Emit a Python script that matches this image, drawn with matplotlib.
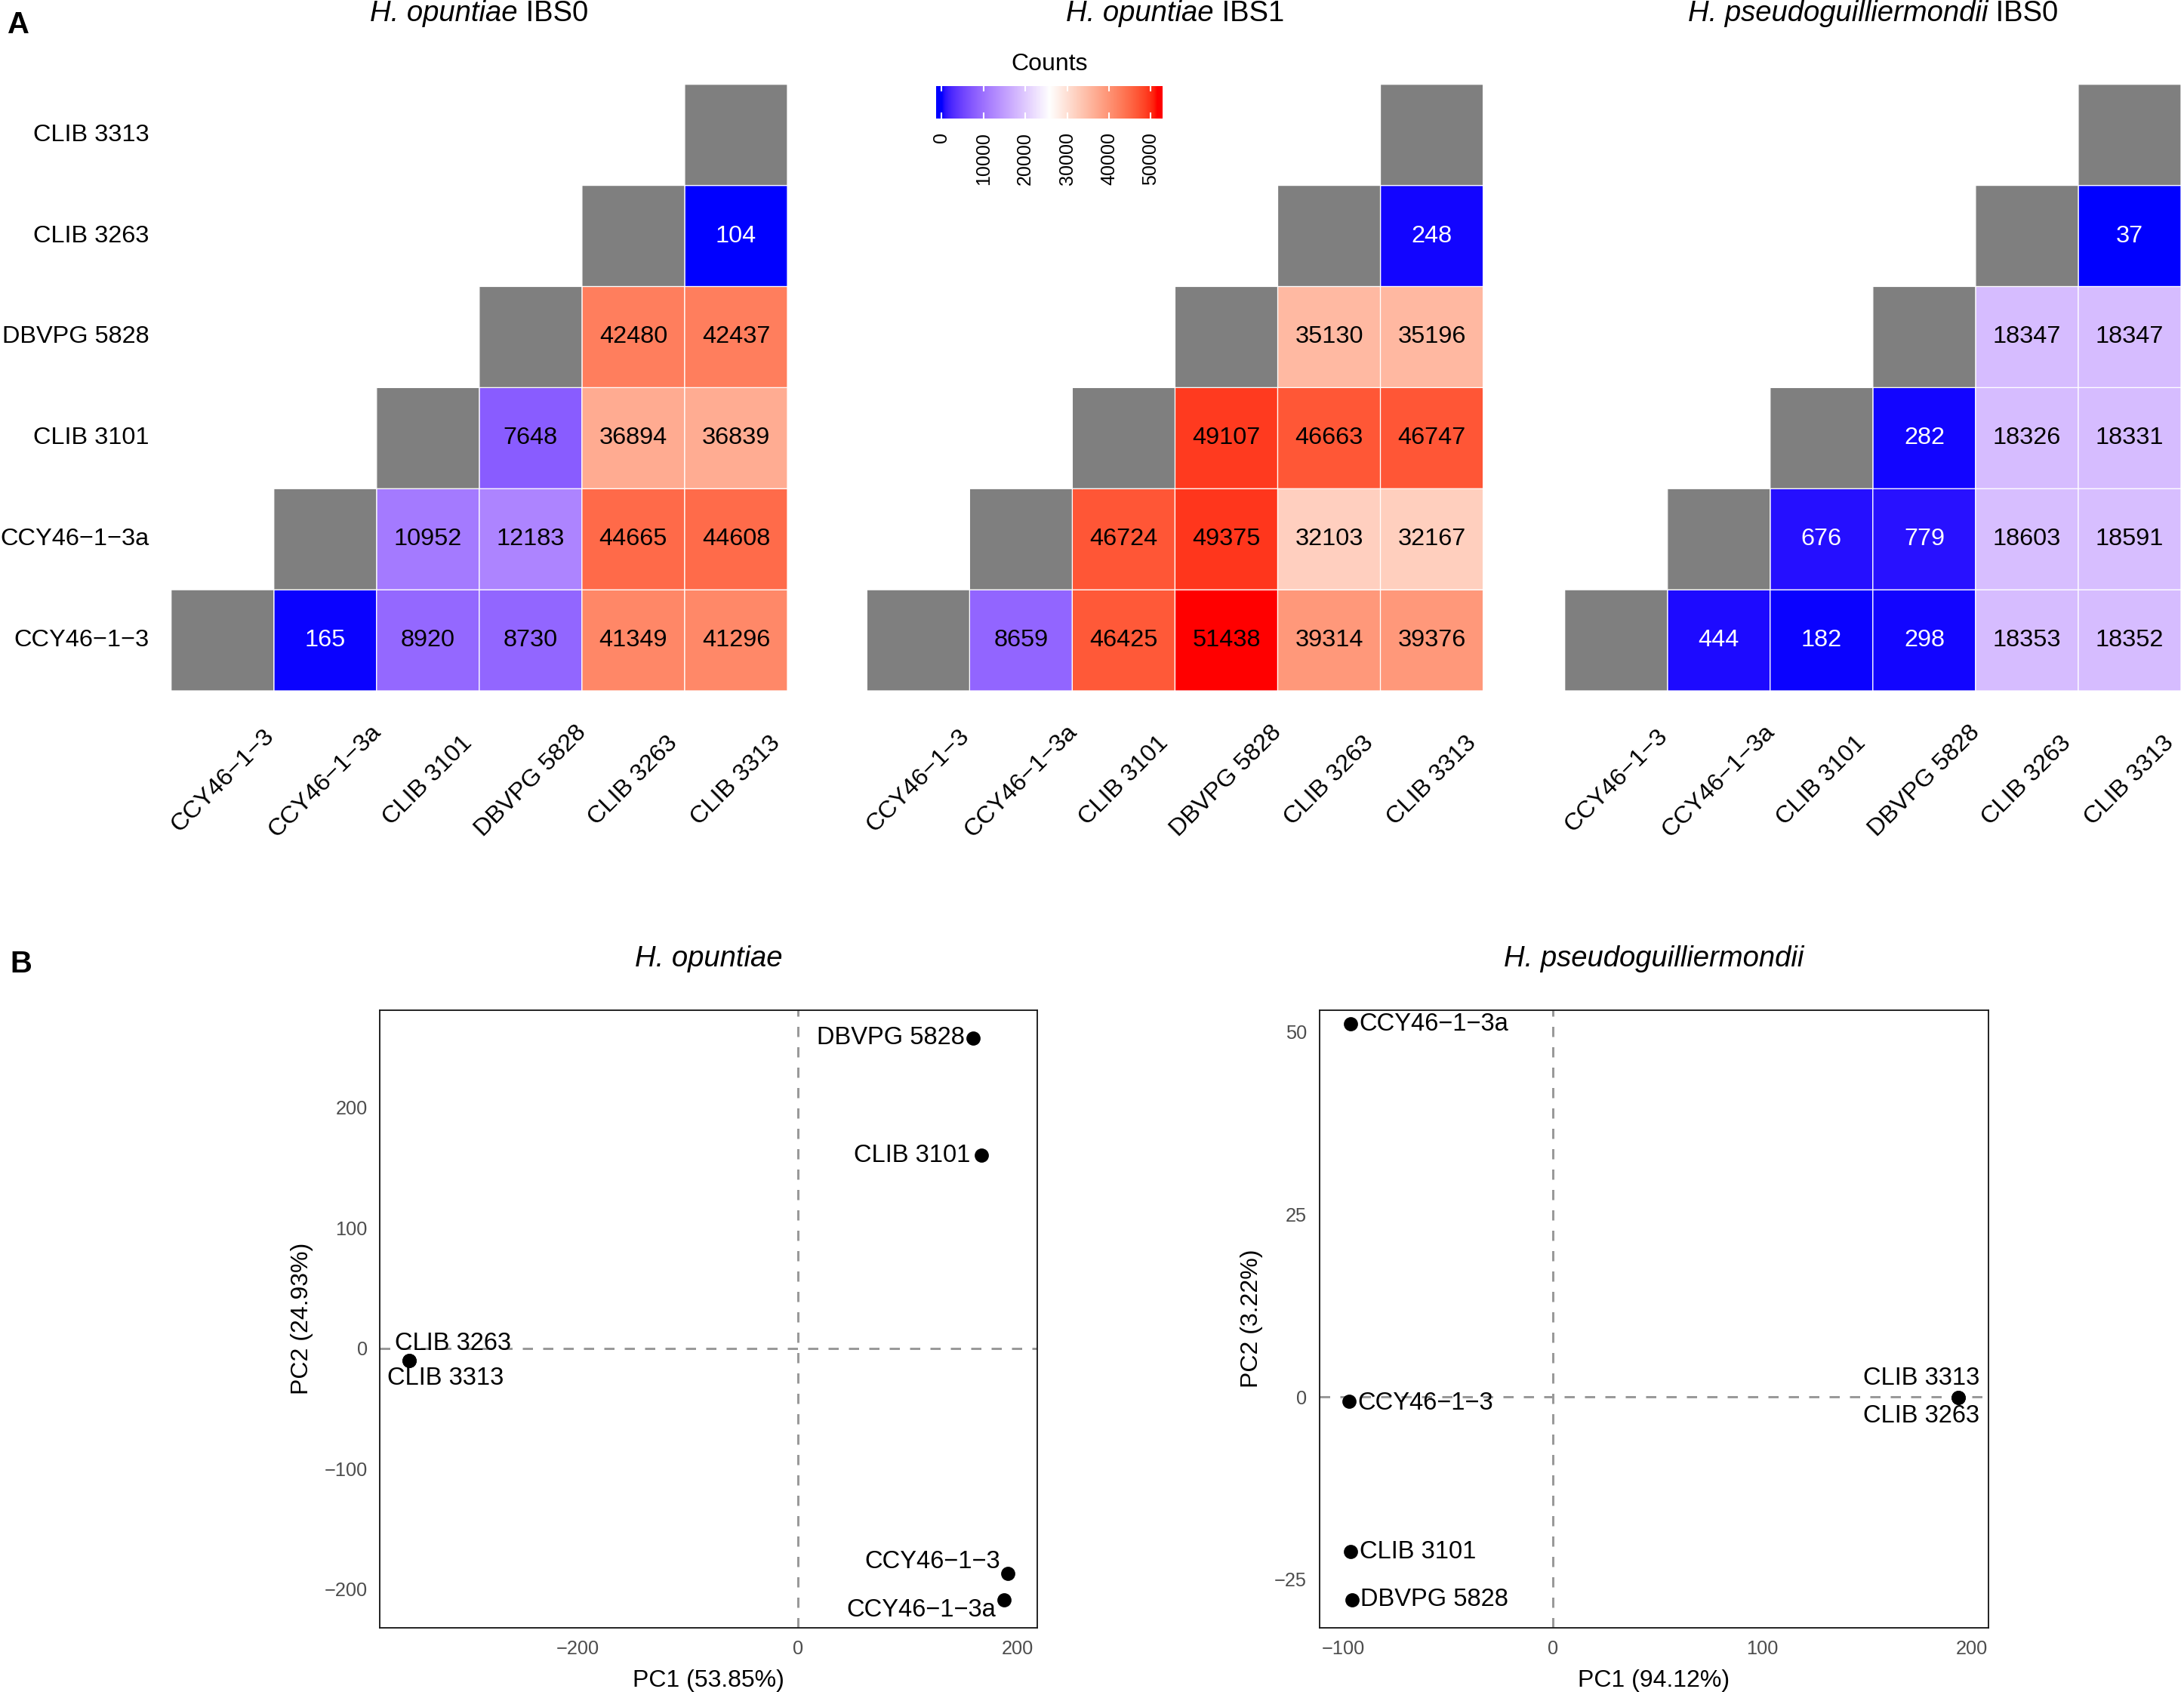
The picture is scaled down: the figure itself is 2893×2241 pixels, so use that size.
import numpy as np
import matplotlib
matplotlib.use("Agg")
import matplotlib.pyplot as plt
from matplotlib.colors import ListedColormap, Normalize

plt.rcParams['font.family'] = ['Liberation Sans', 'DejaVu Sans']

# strains, bottom row / left column first
strains = ['CCY46\u22121\u22123', 'CCY46\u22121\u22123a', 'CLIB 3101',
           'DBVPG 5828', 'CLIB 3263', 'CLIB 3313']

# upper triangle of each heatmap, row i holds columns i+1 .. 5
ho_ibs0 = [[165, 8920, 8730, 41349, 41296],
           [10952, 12183, 44665, 44608],
           [7648, 36894, 36839],
           [42480, 42437],
           [104]]
ho_ibs1 = [[8659, 46425, 51438, 39314, 39376],
           [46724, 49375, 32103, 32167],
           [49107, 46663, 46747],
           [35130, 35196],
           [248]]
hp_ibs0 = [[444, 182, 298, 18353, 18352],
           [676, 779, 18603, 18591],
           [282, 18326, 18331],
           [18347, 18347],
           [37]]
heat_titles = [('H. opuntiae', ' IBS0'), ('H. opuntiae', ' IBS1'),
               ('H. pseudoguilliermondii', ' IBS0')]
cbar_ticks = [0, 10000, 20000, 30000, 40000, 50000]

# PCA coordinates
pca1_names = ['DBVPG 5828', 'CLIB 3101', 'CCY46\u22121\u22123', 'CCY46\u22121\u22123a', 'CLIB 3263', 'CLIB 3313']
pca1_x = [159.7, 166.9, 191.5, 187.9, -353.9, -353.9]
pca1_y = [257.6, 160.0, -186.8, -209.2, -10.0, -10.0]
pca2_names = ['CCY46\u22121\u22123a', 'CCY46\u22121\u22123', 'CLIB 3101', 'DBVPG 5828', 'CLIB 3313', 'CLIB 3263']
pca2_x = [-96.8, -97.3, -96.6, -95.9, 193.3, 193.3]
pca2_y = [51.1, -0.6, -21.2, -27.8, -0.1, -0.1]


def to_lab(rgb):
    c = np.asarray(rgb, float) / 255.0
    lin = np.where(c <= 0.04045, c / 12.92, ((c + 0.055) / 1.055) ** 2.4)
    M = np.array([[0.4124, 0.3576, 0.1805], [0.2126, 0.7152, 0.0722], [0.0193, 0.1192, 0.9505]])
    t = (M @ lin) / np.array([0.95047, 1.0, 1.08883])
    f = np.where(t > 0.008856, np.cbrt(t), 7.787 * t + 16 / 116)
    return np.array([116 * f[1] - 16, 500 * (f[0] - f[1]), 200 * (f[1] - f[2])])


def from_lab(lab):
    L, a, b = lab
    fy = (L + 16) / 116
    f = np.array([fy + a / 500, fy, fy - b / 200])
    t = np.where(f ** 3 > 0.008856, f ** 3, (f - 16 / 116) / 7.787)
    xyz = t * np.array([0.95047, 1.0, 1.08883])
    Minv = np.array([[3.2406, -1.5372, -0.4986], [-0.9689, 1.8758, 0.0415], [0.0557, -0.2040, 1.0570]])
    lin = np.clip(Minv @ xyz, 0, 1)
    c = np.where(lin <= 0.0031308, 12.92 * lin, 1.055 * lin ** (1 / 2.4) - 0.055)
    return np.clip(c, 0, 1)


blue, white, red = to_lab([0, 0, 255]), to_lab([255, 255, 255]), to_lab([255, 0, 0])
ramp = []
for s in np.linspace(0, 1, 512):
    if s < 0.5:
        ramp.append(from_lab(blue + (white - blue) * s / 0.5))
    else:
        ramp.append(from_lab(white + (red - white) * (s - 0.5) / 0.5))
cmap = ListedColormap(ramp)
all_vals = [v for m in (ho_ibs0, ho_ibs1, hp_ibs0) for r in m for v in r]
norm = Normalize(min(all_vals), max(all_vals))

W, H = 2893, 2241
fig = plt.figure(figsize=(W / 300, H / 300), dpi=300)
renderer = fig.canvas.get_renderer()


def fx(px):
    return px / W


def fy(px):
    return 1 - px / H


def mixed_title(xc, ybase, italic, plain, size):
    # italic species name followed by plain text, centred together on xc (pixels)
    t1 = fig.text(0, fy(ybase), italic, style='italic', fontsize=size, ha='left', va='baseline')
    t2 = fig.text(0, fy(ybase), plain, fontsize=size, ha='left', va='baseline')
    w1 = t1.get_window_extent(renderer).width
    w2 = t2.get_window_extent(renderer).width if plain else 0
    start = xc - (w1 + w2) / 2
    t1.set_x(fx(start))
    t2.set_x(fx(start + w1))


heat_lefts = [226.7, 1148.3, 2072.7]
cell_w = 816.3
n = len(strains)
for k, (mat, title) in enumerate(zip([ho_ibs0, ho_ibs1, hp_ibs0], heat_titles)):
    ax = fig.add_axes([fx(heat_lefts[k]), fy(915), cell_w / W, (915 - 111.7) / H])
    vals = np.full((n, n), np.nan)
    diag = np.full((n, n), np.nan)
    for i, row in enumerate(mat):
        for j, v in enumerate(row):
            vals[i, i + 1 + j] = v
    for i in range(n):
        diag[i, i] = 1
    ax.pcolor(np.ma.masked_invalid(vals), cmap=cmap, norm=norm, edgecolors='white', linewidth=0.3)
    ax.pcolor(np.ma.masked_invalid(diag), cmap=ListedColormap(['#7F7F7F']), edgecolors='white', linewidth=0.3)
    for i, row in enumerate(mat):
        for j, v in enumerate(row):
            ax.text(i + 1 + j + 0.5, i + 0.5, str(v), ha='center', va='center', fontsize=7.8,
                    color='white' if v < 1000 else 'black')
    ax.set_xlim(0, n)
    ax.set_ylim(0, n)
    ax.axis('off')
    if k == 0:
        for i, s in enumerate(strains):
            ax.text(-0.215, i + 0.5, s, ha='right', va='center', fontsize=7.8)
    for j, s in enumerate(strains):
        ax.text(j + 0.5, -0.89, s, ha='center', va='center', rotation=45,
                rotation_mode='anchor', fontsize=7.8)
    mixed_title(heat_lefts[k] + cell_w / 2, 28, title[0], title[1], 9.2)

# colour legend
cax = fig.add_axes([fx(1240), fy(156.7), 299.3 / W, 42.7 / H])
lo, hi = -1300, 52670
grad = np.linspace(lo, hi, 600).reshape(1, -1)
cax.imshow(grad, cmap=cmap, norm=norm, aspect='auto', extent=[lo, hi, 0, 1])
for t in cbar_ticks:
    cax.plot([t, t], [0, 0.15], color='white', lw=0.5)
    cax.plot([t, t], [0.85, 1], color='white', lw=0.5)
    cax.text(t, -0.42, str(t), rotation=90, ha='center', va='top', fontsize=6.0)
cax.set_xlim(lo, hi)
cax.set_ylim(0, 1)
cax.axis('off')
fig.text(fx(1389.7), fy(93), 'Counts', ha='center', va='baseline', fontsize=7.7)

fig.text(fx(10), fy(43.5), 'A', fontsize=9.6, fontweight='bold', va='baseline')
fig.text(fx(13), fy(1288), 'B', fontsize=9.6, fontweight='bold', va='baseline')

# PCA panels
pca_specs = [
    dict(left=503.3, right=1374.3, names=pca1_names, x=pca1_x, y=pca1_y,
         title='H. opuntiae', xlab='PC1 (53.85%)', ylab='PC2 (24.93%)',
         xlim=(-380.3, 218.3), ylim=(-232.0, 280.8),
         xt=[-200, 0, 200], yt=[-200, -100, 0, 100, 200],
         offs=[(-2.65, 0, 'right'), (-3.3, 0, 'right'), (-2.5, 3.7, 'right'),
               (-2.65, -3.1, 'right'), (-4.5, 5.4, 'left'), (-6.9, -5.7, 'left')]),
    dict(left=1747.6, right=2633.5, names=pca2_names, x=pca2_x, y=pca2_y,
         title='H. pseudoguilliermondii', xlab='PC1 (94.12%)', ylab='PC2 (3.22%)',
         xlim=(-111.6, 207.7), ylim=(-31.6, 53.0),
         xt=[-100, 0, 100, 200], yt=[-25, 0, 25, 50],
         offs=[(2.8, 0, 'left'), (2.65, -0.6, 'left'), (2.8, 0, 'left'),
               (2.65, 0, 'left'), (6.9, 6.1, 'right'), (6.9, -5.8, 'right')]),
]
for sp in pca_specs:
    ax = fig.add_axes([fx(sp['left']), fy(2155.7), (sp['right'] - sp['left']) / W, (2155.7 - 1337.7) / H])
    ax.axhline(0, color='#999999', lw=0.72, linestyle=(0, (4.5, 4.5)))
    ax.axvline(0, color='#999999', lw=0.72, linestyle=(0, (4.5, 4.5)))
    ax.plot(sp['x'], sp['y'], 'o', color='black', markersize=3.5, zorder=3)
    for name, x, y, (dx, dy, ha) in zip(sp['names'], sp['x'], sp['y'], sp['offs']):
        ax.annotate(name, (x, y), xytext=(dx, dy), textcoords='offset points',
                    ha=ha, va='center', fontsize=7.85)
    ax.set_xlim(*sp['xlim'])
    ax.set_ylim(*sp['ylim'])
    ax.set_xticks(sp['xt'])
    ax.set_yticks(sp['yt'])
    ax.tick_params(length=0, pad=4, labelsize=6.1, labelcolor='#4D4D4D')
    for s in ax.spines.values():
        s.set_linewidth(0.45)
        s.set_color('#1A1A1A')
    ax.set_xlabel(sp['xlab'], fontsize=7.7, labelpad=3.5)
    ax.set_ylabel(sp['ylab'], fontsize=7.7, labelpad=3.5)
    ax.set_title(sp['title'], fontsize=9.2, pad=13.9, style='italic')

fig.savefig('out.png', dpi=300)
